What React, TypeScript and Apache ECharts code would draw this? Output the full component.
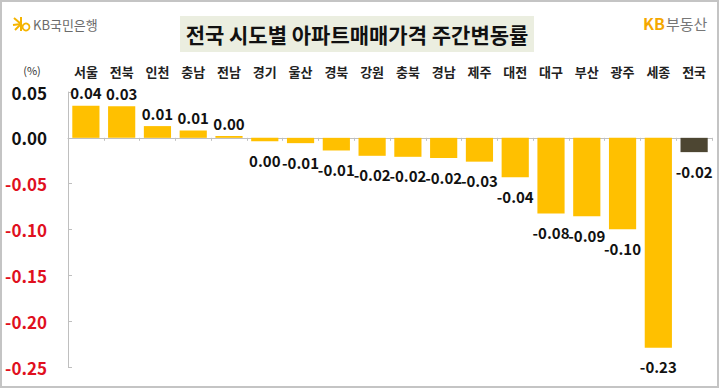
import React, { useEffect, useRef } from "react";
import * as echarts from "echarts";

const categories = ["서울", "전북", "인천", "충남", "전남", "경기", "울산", "경북", "강원", "충북", "경남", "제주", "대전", "대구", "부산", "광주", "세종", "전국"];
const values = [0.035, 0.0345, 0.0128, 0.008, 0.002, -0.0036, -0.0058, -0.0138, -0.0196, -0.0207, -0.022, -0.026, -0.043, -0.0825, -0.0855, -0.0997, -0.229, -0.0156];
const valueLabels = ["0.04", "0.03", "0.01", "0.01", "0.00", "0.00", "-0.01", "-0.01", "-0.02", "-0.02", "-0.02", "-0.03", "-0.04", "-0.08", "-0.09", "-0.10", "-0.23", "-0.02"];
const yMin = -0.25;
const yMax = 0.05;
const yInterval = 0.05;

const FONT = "'Noto Sans CJK KR', 'Noto Sans', sans-serif";
const GOLD = "#ffc000";
const NATIONAL = "#4d4632";

export default function App() {
  const ref = useRef<HTMLDivElement>(null);
  useEffect(() => {
    if (!ref.current) return;
    const chart = echarts.init(ref.current, undefined, { renderer: "svg" });
    const last = categories.length - 1;
    chart.setOption({
      animation: false,
      backgroundColor: "#ffffff",
      grid: { left: 68, right: 8, top: 92, bottom: 22, containLabel: false },
      xAxis: [
        {
          type: "category",
          data: categories,
          position: "bottom",
          axisLine: { onZero: true, lineStyle: { color: "#bfbfbf", width: 1 } },
          axisTick: { show: true, length: 3, lineStyle: { color: "#bfbfbf" } },
          axisLabel: { show: false },
        },
        {
          type: "category",
          data: categories,
          position: "top",
          axisLine: { show: false },
          axisTick: { show: false },
          axisLabel: {
            show: true,
            margin: 14,
            lineHeight: 13,
            fontFamily: FONT,
            fontSize: 13,
            fontWeight: "bold",
            color: "#222222",
          },
        },
      ],
      yAxis: {
        type: "value",
        min: yMin,
        max: yMax,
        interval: yInterval,
        splitLine: { show: false },
        axisLine: { show: true, lineStyle: { color: "#bfbfbf" } },
        axisTick: { show: true, inside: true, length: 4, lineStyle: { color: "#bfbfbf" } },
        axisLabel: {
          margin: 21,
          fontFamily: FONT,
          fontSize: 17,
          fontWeight: "bold",
          formatter: (v: number) => v.toFixed(2),
          color: (v: any) => (Number(v) < 0 ? "#e0101e" : "#111111"),
        },
      },
      series: [
        {
          type: "bar",
          xAxisIndex: 0,
          barCategoryGap: "24%",
          data: values.map((v, i) => ({
            value: v,
            itemStyle: { color: i === last ? NATIONAL : GOLD },
            label: {
              show: true,
              position: v >= 0 ? "top" : "bottom",
              distance: v >= 0 ? 6 : 12,
              lineHeight: 14,
              formatter: valueLabels[i],
              fontFamily: FONT,
              fontSize: 15,
              fontWeight: "bold",
              color: "#111111",
            },
          })),
        },
      ],
      graphic: [
        {
          type: "rect",
          shape: { x: 1, y: 1, width: 717, height: 386 },
          style: { fill: "none", stroke: "#c4c4c4", lineWidth: 2 },
          silent: true,
        },
        {
          type: "rect",
          shape: { x: 180, y: 16, width: 354, height: 36 },
          style: { fill: "#ebeee0" },
        },
        {
          type: "text",
          x: 357,
          y: 34,
          style: {
            text: "전국 시도별 아파트매매가격 주간변동률",
            fontFamily: FONT,
            fontSize: 21,
            fontWeight: "bold",
            fill: "#111111",
            align: "center",
            verticalAlign: "middle",
          },
        },
        {
          type: "text",
          x: 32,
          y: 70,
          style: { text: "(%)", fontFamily: FONT, fontSize: 11, fill: "#333333", align: "center", verticalAlign: "middle" },
        },
        // KB 국민은행 logo
        {
          type: "group",
          children: [
            { type: "line", shape: { x1: 14, y1: 18, x2: 21, y2: 24 }, style: { stroke: "#f5b400", lineWidth: 2 } },
            { type: "line", shape: { x1: 13, y1: 25, x2: 21, y2: 24 }, style: { stroke: "#f5b400", lineWidth: 2 } },
            { type: "line", shape: { x1: 15, y1: 30, x2: 21, y2: 24 }, style: { stroke: "#f5b400", lineWidth: 2 } },
            { type: "line", shape: { x1: 21, y1: 17, x2: 21, y2: 31 }, style: { stroke: "#f5b400", lineWidth: 2 } },
            { type: "circle", shape: { cx: 26, cy: 27, r: 3.5 }, style: { fill: "none", stroke: "#f5b400", lineWidth: 1.8 } },
          ],
        },
        {
          type: "text",
          x: 33,
          y: 24,
          style: { text: "KB국민은행", fontFamily: FONT, fontSize: 13, fill: "#6b6b6b", verticalAlign: "middle" },
        },
        // KB부동산 logo
        {
          type: "text",
          x: 643,
          y: 23,
          style: { text: "KB", fontFamily: FONT, fontSize: 16, fontWeight: "bold", fill: "#f5a800", verticalAlign: "middle" },
        },
        {
          type: "text",
          x: 666,
          y: 23,
          style: { text: "부동산", fontFamily: FONT, fontSize: 15, fill: "#777777", verticalAlign: "middle" },
        },
      ],
    });
    return () => chart.dispose();
  }, []);
  return <div ref={ref} style={{ position: "fixed", left: 0, top: 0, width: 720, height: 389 }} />;
}
